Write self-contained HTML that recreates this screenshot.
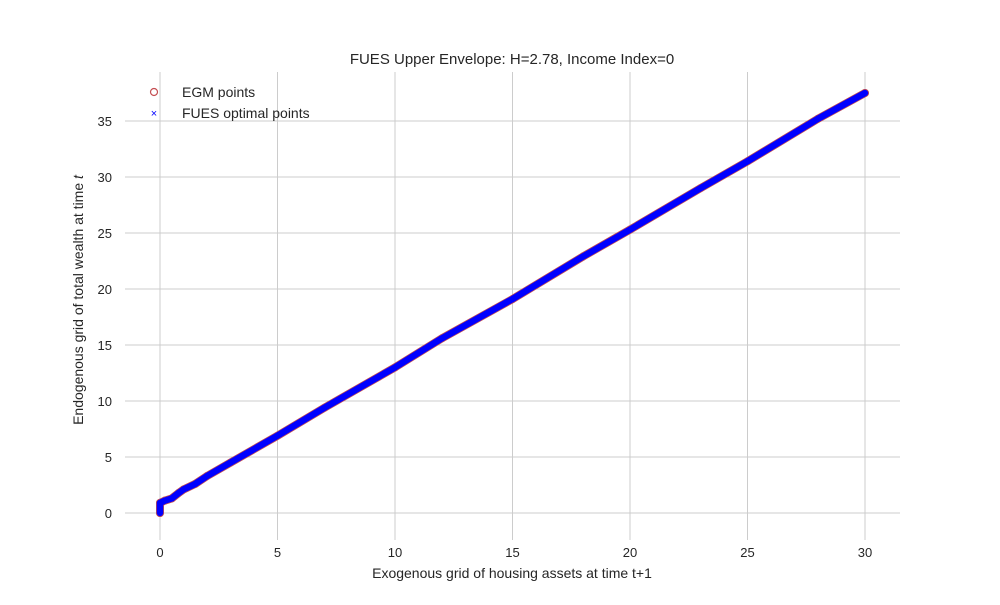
<!DOCTYPE html>
<html><head><meta charset="utf-8"><style>
body{margin:0;background:#fff;font-family:"Liberation Sans",sans-serif;}
svg text{font-family:"Liberation Sans",sans-serif;fill:#262626;}
</style></head><body>
<svg id="chart" width="1000" height="600" viewBox="0 0 1000 600" xmlns="http://www.w3.org/2000/svg">
<g id="grid"></g>
<g id="series"></g>
<g id="ticks"></g>
<text x="512" y="64" font-size="15" text-anchor="middle">FUES Upper Envelope: H=2.78, Income Index=0</text>
<text x="512" y="578" font-size="14" text-anchor="middle">Exogenous grid of housing assets at time t+1</text>
<text transform="translate(83,300) rotate(-90)" font-size="14" text-anchor="middle">Endogenous grid of total wealth at time <tspan font-style="italic">t</tspan></text>
<g>
<circle cx="154" cy="92" r="3.5" fill="none" stroke="#c44e52" stroke-width="1.2"/>
<text x="182" y="97" font-size="14">EGM points</text>
<text x="154" y="117" font-size="11" text-anchor="middle" style="fill:#0000ff">×</text>
<text x="182" y="118" font-size="14">FUES optimal points</text>
</g>
</svg>
<script>
const xTicks=[0,5,10,15,20,25,30];
const yTicks=[0,5,10,15,20,25,30,35];
const xs=[0,0,0,0,0.2,0.5,0.8,1,1.5,2,3,5,7,10,12,15,18,20,23,25,28,30];
const ys=[0,0.3,0.6,0.9,1.1,1.3,1.8,2.1,2.6,3.3,4.5,6.9,9.4,13.0,15.6,19.1,22.9,25.3,29.0,31.4,35.2,37.5];
const X=v=>160+23.5*v, Y=v=>513-11.2*v;
const NS="http://www.w3.org/2000/svg";
const grid=document.getElementById('grid'),ticks=document.getElementById('ticks'),ser=document.getElementById('series');
function mk(tag,at,parent){const e=document.createElementNS(NS,tag);for(const k in at)e.setAttribute(k,at[k]);parent.appendChild(e);return e;}
xTicks.forEach(t=>{
 const l=mk('line',{x1:X(t),x2:X(t),y1:72,y2:540,stroke:'#cccccc','stroke-width':1},grid);
 
 
 const tx=mk('text',{x:X(t),y:557,'font-size':13,'text-anchor':'middle'},ticks);tx.textContent=t;
 
 
});
yTicks.forEach(t=>{
 const l=mk('line',{x1:125,x2:900,y1:Y(t),y2:Y(t),stroke:'#cccccc','stroke-width':1},grid);
 
 
 const tx=mk('text',{x:112,y:Y(t)+5,'font-size':13,'text-anchor':'end'},ticks);tx.textContent=t;
 
 
});
const pts=xs.map((x,i)=>X(x)+','+Y(ys[i])).join(' ');
const egm=mk('polyline',{points:pts,fill:'none',stroke:'#c44e52','stroke-width':8,'stroke-linejoin':'round','stroke-linecap':'round'},ser);


xs.forEach((x,i)=>{
 const c=mk('circle',{cx:X(x),cy:Y(ys[i]),r:3.5,fill:'none',stroke:'#c44e52','stroke-width':1},ser);
 
 
});
const fues=mk('polyline',{points:pts,fill:'none',stroke:'#0000ff','stroke-width':6.5,'stroke-linejoin':'round','stroke-linecap':'round'},ser);


</script>
</body></html>
